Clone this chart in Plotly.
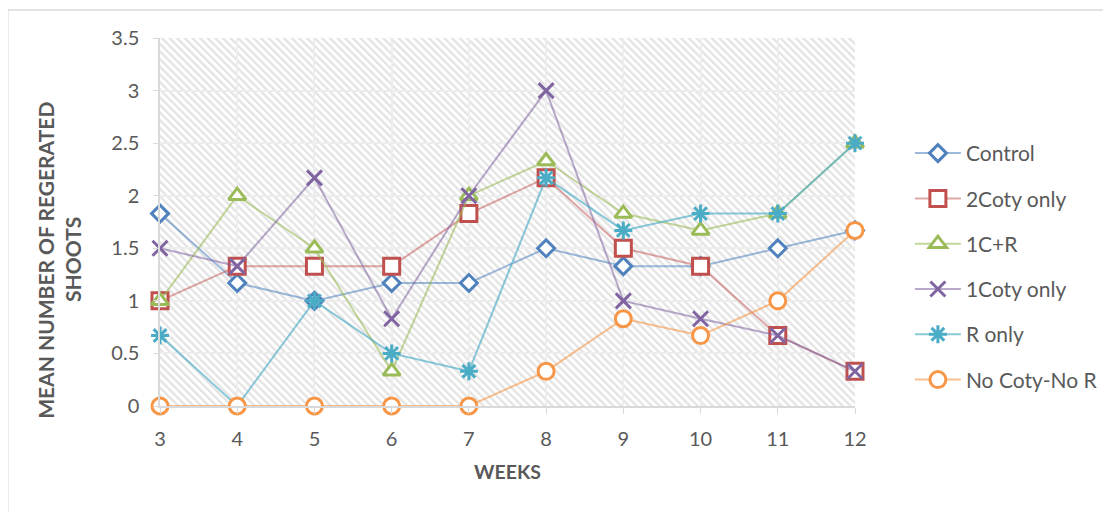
import base64
import plotly.graph_objects as go

# weeks after culture and mean number of regenerated shoots per treatment
weeks = [3, 4, 5, 6, 7, 8, 9, 10, 11, 12]
control = [1.83, 1.17, 1.0, 1.17, 1.17, 1.5, 1.33, 1.33, 1.5, 1.67]
coty2_only = [1.0, 1.33, 1.33, 1.33, 1.83, 2.17, 1.5, 1.33, 0.67, 0.33]
c1_r = [1.0, 2.0, 1.5, 0.33, 2.0, 2.33, 1.83, 1.67, 1.83, 2.5]
coty1_only = [1.5, 1.33, 2.17, 0.83, 2.0, 3.0, 1.0, 0.83, 0.67, 0.33]
r_only = [0.67, 0.0, 1.0, 0.5, 0.33, 2.17, 1.67, 1.83, 1.83, 2.5]
no_coty_no_r = [0.0, 0.0, 0.0, 0.0, 0.0, 0.33, 0.83, 0.67, 1.0, 1.67]

series_names = ["Control", "2Coty only", "1C+R", "1Coty only", "R only", "No Coty-No R"]
y_ticks = [0, 0.5, 1, 1.5, 2, 2.5, 3, 3.5]

TXT = "#595959"
FONT = "Lato"

# (values, marker colour, line rgba, symbol, size, open?)
styles = [
    (control, "#4F81BD", "rgba(79,129,189,0.55)", "diamond", 13, False),
    (coty2_only, "#C0504D", "rgba(192,80,77,0.5)", "square", 16, False),
    (c1_r, "#9BBB59", "rgba(155,187,89,0.6)", "triangle-up", 15, False),
    (coty1_only, "#8064A2", "rgba(128,100,162,0.55)", "x-thin-open", 15, True),
    (r_only, "#4BACC6", "rgba(75,172,198,0.65)", "asterisk-open", 15, True),
    (no_coty_no_r, "#F79646", "rgba(247,150,70,0.6)", "circle", 16, False),
]

fig = go.Figure()
for i, (name, (vals, col, lcol, sym, size, is_open)) in enumerate(zip(series_names, styles)):
    fig.add_trace(go.Scatter(
        x=weeks, y=vals, name=name, mode="lines+markers",
        legendgroup=str(i),
        line=dict(color=lcol, width=2),
        marker=dict(symbol=sym, size=size,
                    color=col if is_open else "white",
                    line=dict(color=col, width=3)),
        cliponaxis=False,
    ))

# diagonal hatch background, like the Excel pattern fill
svg = ('<svg xmlns="http://www.w3.org/2000/svg" width="695" height="368" preserveAspectRatio="none">'
       '<defs><pattern id="h" width="5.4" height="10" patternUnits="userSpaceOnUse" '
       'patternTransform="rotate(-45)"><rect x="0" y="0" width="2.4" height="10" fill="#e4e4e4"/>'
       '</pattern></defs><rect width="695" height="368" fill="white"/>'
       '<rect width="695" height="368" fill="url(#h)"/></svg>')
hatch = "data:image/svg+xml;base64," + base64.b64encode(svg.encode()).decode()

fig.add_layout_image(dict(source=hatch, xref="paper", yref="paper", x=0, y=1,
                          sizex=1, sizey=1, sizing="stretch", xanchor="left",
                          yanchor="top", layer="below"))

# y title is two separate lines in the original
fig.add_annotation(text="<b>MEAN NUMBER OF REGERATED</b>", textangle=-90,
                   xref="paper", yref="paper", x=-0.185, y=0.397,
                   showarrow=False, font=dict(size=21, color=TXT, family=FONT))
fig.add_annotation(text="<b>SHOOTS</b>", textangle=-90,
                   xref="paper", yref="paper", x=-0.146, y=0.397,
                   showarrow=False, font=dict(size=21, color=TXT, family=FONT))

# outer chart border
fig.add_shape(type="rect", xref="paper", yref="paper",
              x0=-0.219, y0=-0.35, x1=1.45, y1=1.076,
              line=dict(color="#d9d9d9", width=1.5), fillcolor="rgba(0,0,0,0)")

fig.update_layout(
    width=1111, height=512,
    margin=dict(l=152, r=264, t=30, b=114),
    paper_bgcolor="white", plot_bgcolor="rgba(0,0,0,0)",
    font=dict(family=FONT, size=20, color=TXT),
    showlegend=True,
    legend=dict(x=1.079, y=0.742, xanchor="left", yanchor="top",
                itemwidth=46, tracegroupgap=15, font=dict(size=21, color=TXT),
                bgcolor="rgba(0,0,0,0)"),
    xaxis=dict(range=[3, 12], tickvals=weeks, ticks="outside", ticklen=6,
               tickcolor="#d9d9d9", showline=True, linecolor="#d9d9d9", linewidth=1.5,
               showgrid=True, gridcolor="#ededed", gridwidth=1.5, zeroline=False,
               ticklabelstandoff=8, tickfont=dict(size=20),
               title=dict(text="<b>WEEKS</b>", font=dict(size=19.5, color=TXT), standoff=17)),
    yaxis=dict(range=[0, 3.5], tickvals=y_ticks, ticks="outside", ticklen=5,
               tickcolor="#d9d9d9", showline=True, linecolor="#d9d9d9", linewidth=1.5,
               showgrid=True, gridcolor="#ededed", gridwidth=1.5, zeroline=False,
               ticklabelstandoff=10, tickfont=dict(size=20)),
)

fig.write_html("out.html")
